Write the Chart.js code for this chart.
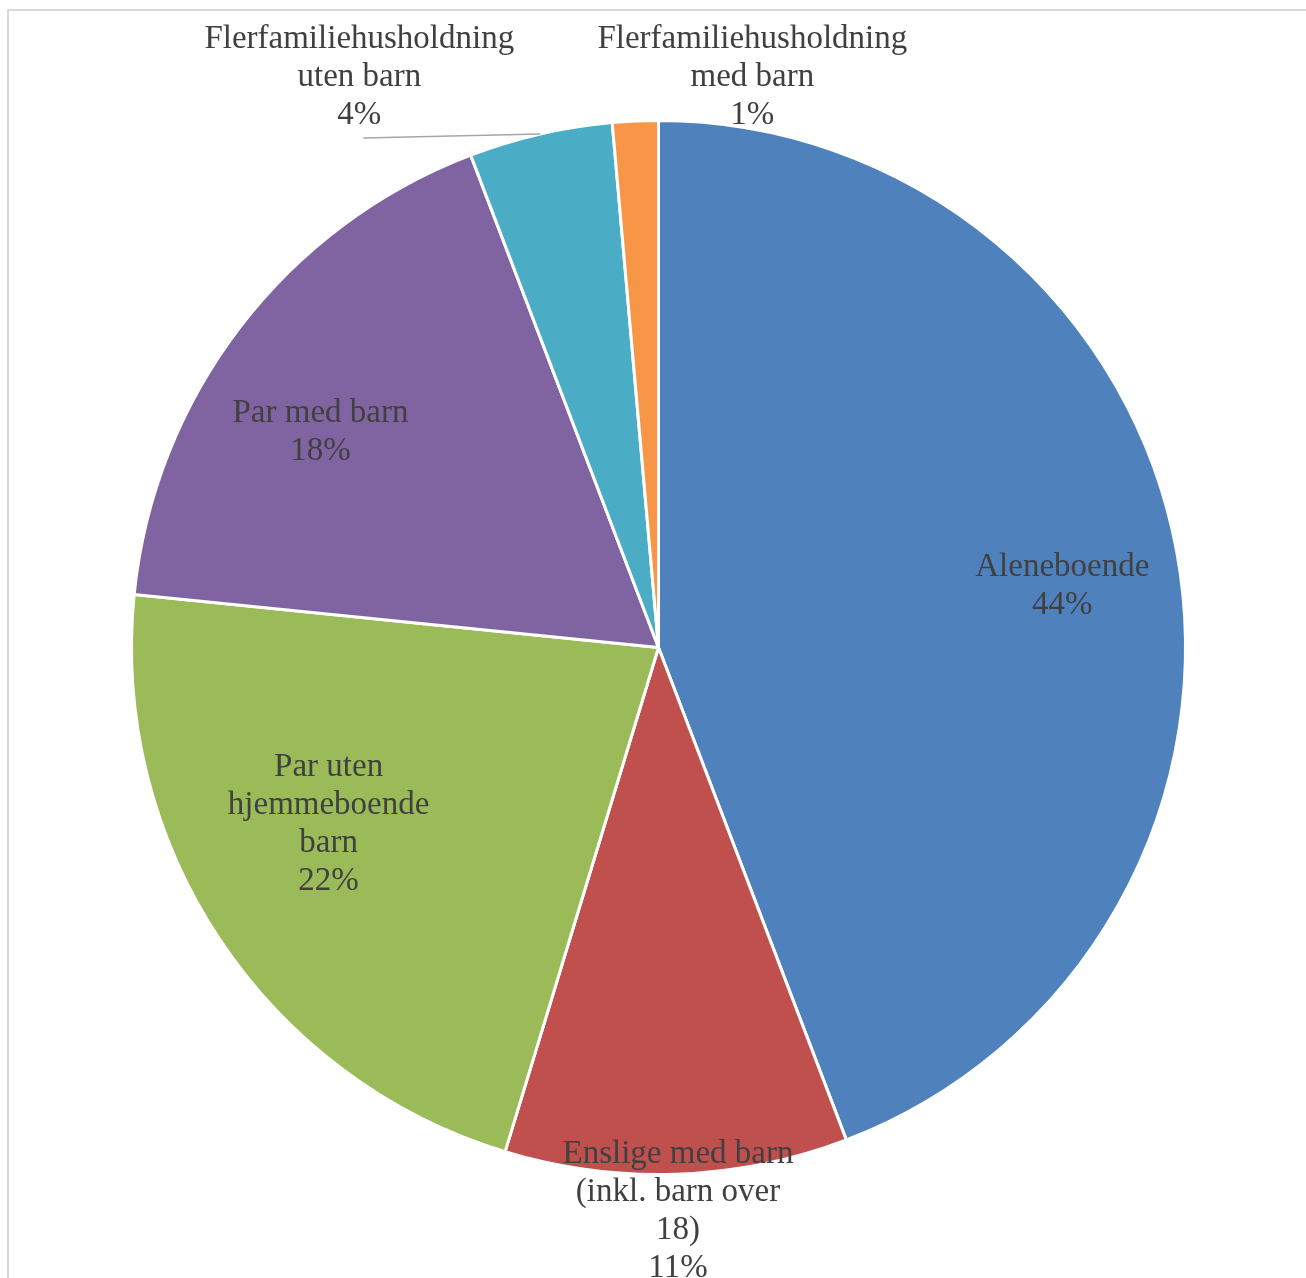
<!DOCTYPE html>
<html lang="no">
<head>
<meta charset="UTF-8">
<title>Husholdninger</title>
<style>
  body { margin: 0; background: #fff; }
  #wrap { position: relative; width: 1306px; height: 1278px; }
</style>
</head>
<body>
<div id="wrap"><canvas id="pie" width="1306" height="1278"></canvas></div>

<script src="https://cdn.jsdelivr.net/npm/chart.js@4/dist/chart.umd.min.js"></script>
<script>
// categories (wrapped as on the chart) and shares in percent
const categories = [
  ['Aleneboende'],
  ['Enslige med barn', '(inkl. barn over', '18)'],
  ['Par uten', 'hjemmeboende', 'barn'],
  ['Par med barn'],
  ['Flerfamiliehusholdning', 'uten barn'],
  ['Flerfamiliehusholdning', 'med barn']
];
const shares = [44.2, 10.5, 21.9, 17.6, 4.4, 1.4];
const colours = ['#4F81BD', '#C0504D', '#9BBB59', '#8064A2', '#4BACC6', '#F79646'];

// where each label sits: inside at a fraction of the radius, or outside
// at an offset from the slice's outer midpoint
const labelPlace = [
  { r: 0.775, turn: 1.8 },
  { r: 1.07 },
  { r: 0.71, turn: 5.5 },
  { r: 0.76, turn: -5 },
  { out: [-181, -57], leader: true },
  { out: [117, -44] }
];

const FONT = '33px "Liberation Serif", "DejaVu Serif", serif';
const LINE = 38;

const frame = {
  id: 'frame',
  beforeDraw(chart) {
    const c = chart.ctx;
    c.save();
    c.strokeStyle = '#d9d9d9';
    c.lineWidth = 2;
    c.strokeRect(8, 10, 2000, 2000);
    c.restore();
  }
};

const pieLabels = {
  id: 'pieLabels',
  afterDatasetsDraw(chart) {
    const c = chart.ctx;
    const arcs = chart.getDatasetMeta(0).data;
    const vals = chart.data.datasets[0].data;
    const total = vals.reduce((a, b) => a + b, 0);
    c.save();
    c.font = FONT;
    c.fillStyle = '#404040';
    c.textAlign = 'center';
    c.textBaseline = 'middle';
    arcs.forEach((arc, i) => {
      const p = arc.getProps(['x', 'y', 'startAngle', 'endAngle', 'outerRadius'], true);
      const place = labelPlace[i];
      let mid = (p.startAngle + p.endAngle) / 2;
      let cx, cy;
      if (place.out) {
        const ax = p.x + Math.cos(mid) * p.outerRadius;
        const ay = p.y + Math.sin(mid) * p.outerRadius;
        cx = ax + place.out[0];
        cy = ay + place.out[1];
        if (place.leader) {
          c.save();
          c.strokeStyle = '#a6a6a6';
          c.lineWidth = 1.5;
          c.beginPath();
          c.moveTo(cx + 4, cy + 61);
          c.lineTo(ax, ay);
          c.stroke();
          c.restore();
        }
      } else {
        mid += (place.turn || 0) * Math.PI / 180;
        cx = p.x + Math.cos(mid) * p.outerRadius * place.r;
        cy = p.y + Math.sin(mid) * p.outerRadius * place.r;
      }
      const lines = chart.data.labels[i].concat([Math.round(vals[i] / total * 100) + '%']);
      const top = cy - (lines.length - 1) * LINE / 2;
      lines.forEach((t, k) => c.fillText(t, cx, top + k * LINE));
    });
    c.restore();
  }
};

new Chart(document.getElementById('pie'), {
  type: 'pie',
  data: {
    labels: categories,
    datasets: [{
      data: shares,
      backgroundColor: colours,
      borderColor: '#ffffff',
      borderWidth: 3
    }]
  },
  options: {
    responsive: false,
    animation: false,
    layout: { padding: { top: 119, bottom: 102, left: 130, right: 119 } },
    plugins: {
      legend: { display: false },
      tooltip: { enabled: false }
    }
  },
  plugins: [frame, pieLabels]
});
</script>
</body>
</html>
